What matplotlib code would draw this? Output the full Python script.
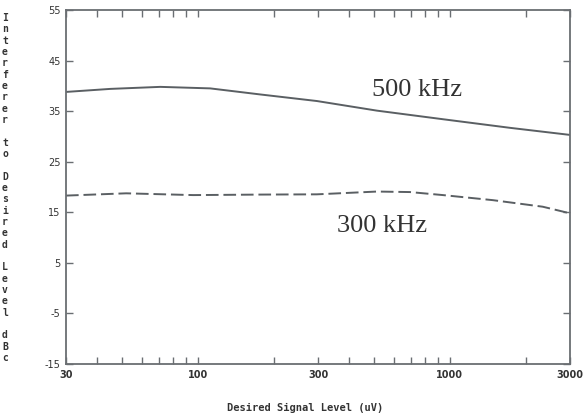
import matplotlib
matplotlib.use("Agg")
import matplotlib.pyplot as plt

# 500 kHz curve (solid)
x_500 = [30, 45, 71, 112, 177, 297, 514, 940, 1734, 3000]
y_500 = [38.8, 39.4, 39.8, 39.5, 38.3, 37.0, 35.1, 33.4, 31.7, 30.3]

# 300 kHz curve (dashed)
x_300 = [30, 52, 96, 176, 297, 514, 695, 940, 1482, 2339, 3000]
y_300 = [18.3, 18.75, 18.4, 18.5, 18.55, 19.1, 19.0, 18.4, 17.4, 16.1, 14.8]

x_ticks = [30, 100, 300, 1000, 3000]
x_tick_labels = ["30", "100", "300", "1000", "3000"]
x_minor = [40, 50, 60, 70, 80, 90, 200, 400, 500, 600, 700, 800, 900, 2000]
y_ticks = [-15, -5, 5, 15, 25, 35, 45, 55]

ylabel = "Interferer to Desired Level dBc"
xlabel = "Desired Signal Level (uV)"

line_col = "#5a5f63"
axis_col = "#6a6e72"

fig = plt.figure(figsize=(5.85, 4.2), dpi=100)
ax = fig.add_axes([66 / 585, 1 - 364 / 420, 504 / 585, 354 / 420])

ax.plot(x_500, y_500, color=line_col, lw=1.4)
ax.plot(x_300, y_300, color=line_col, lw=1.4, dashes=(6.5, 2.5))

ax.set_xscale("log")
ax.set_xlim(30, 3000)
ax.set_ylim(-15, 55)
ax.set_xticks(x_ticks)
ax.set_xticklabels(x_tick_labels)
ax.set_xticks(x_minor, minor=True)
ax.xaxis.set_minor_formatter(matplotlib.ticker.NullFormatter())
ax.set_yticks(y_ticks)
ax.set_yticklabels([str(v) for v in y_ticks])

ax.tick_params(which="both", direction="in", top=True, right=True,
               length=5, width=1, color=axis_col, labelcolor="#333333",
               labelsize=7, pad=4)
for lab in ax.get_xticklabels():
    lab.set_fontweight("bold")
for s in ax.spines.values():
    s.set_color(axis_col)
    s.set_linewidth(1.3)

ax.text(491, 37.9, "500 kHz", family="Liberation Serif", fontsize=19,
        color="#333333", ha="left", va="baseline")
ax.text(356, 11.2, "300 kHz", family="Liberation Serif", fontsize=19,
        color="#333333", ha="left", va="baseline")

# stacked vertical y label
n = len(ylabel)
top_px, bot_px = 18, 358
for i, ch in enumerate(ylabel):
    ypx = top_px + (bot_px - top_px) * i / (n - 1)
    fig.text(5 / 585, 1 - ypx / 420, ch, family="DejaVu Sans Mono",
             fontweight="bold", fontsize=7, color="#333333",
             ha="center", va="center")

fig.text(305 / 585, 1 - 408 / 420, xlabel, family="DejaVu Sans Mono",
         fontweight="bold", fontsize=7.5, color="#333333",
         ha="center", va="center")

fig.savefig("out.png", dpi=100)
